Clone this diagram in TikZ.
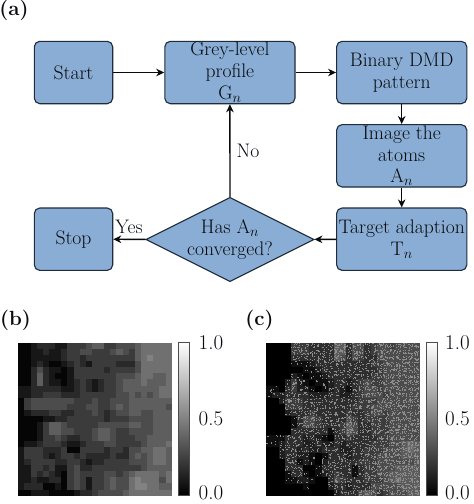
\documentclass[tikz,border=0pt]{standalone}
\usetikzlibrary{shapes.geometric,arrows.meta}
\definecolor{boxblue}{RGB}{137,173,212}
\definecolor{boxline}{RGB}{30,44,60}
\definecolor{inkc}{RGB}{8,10,14}
\newcommand{\heatb}{{0,0,1,2,2,2,1,1,3,3,3,4,5,5,3,3,4,4,4,5,6,6,6,6,6},
{0,0,1,1,2,1,1,2,3,3,4,4,3,3,3,4,5,4,3,5,6,6,6,6,6},
{0,0,1,1,1,1,1,2,3,3,2,3,3,3,3,3,3,3,3,5,6,7,6,6,6},
{0,0,1,2,1,0,0,1,2,3,2,1,3,3,3,3,2,2,2,4,6,6,6,6,6},
{0,0,2,4,2,1,1,0,1,3,3,3,3,3,2,3,3,3,3,4,6,6,6,6,6},
{0,0,2,5,2,1,0,0,1,3,3,3,3,3,3,3,4,4,4,5,6,6,5,5,6},
{0,0,2,5,2,1,1,0,1,2,3,2,1,2,3,3,4,5,5,5,6,5,5,5,6},
{1,1,2,2,2,2,2,1,1,2,3,2,1,2,3,3,4,5,5,5,5,5,5,6,6},
{1,1,2,2,3,3,3,2,2,2,3,3,3,3,3,3,4,4,5,4,5,4,5,6,6},
{0,3,4,4,4,4,4,4,4,3,3,3,4,3,3,4,4,4,5,5,5,5,5,5,5},
{0,3,4,4,4,4,4,4,3,3,3,4,4,3,3,4,5,4,5,5,5,5,5,5,4},
{0,1,2,2,2,3,3,2,2,3,3,3,4,3,2,3,4,4,5,5,4,4,5,5,5},
{0,0,0,0,1,1,2,2,3,3,3,3,3,3,2,3,3,3,4,4,4,4,5,5,5},
{0,0,0,1,3,5,5,4,3,3,3,3,3,4,4,4,4,4,5,5,4,4,5,5,5},
{0,0,0,1,3,5,5,4,4,3,3,3,4,5,5,4,3,3,4,4,4,4,5,5,5},
{0,0,0,1,3,3,4,3,2,2,3,3,4,5,5,4,3,3,3,4,4,5,5,5,5},
{0,1,1,2,3,3,3,2,1,1,2,3,3,3,4,4,3,3,3,3,4,5,5,5,6},
{1,3,3,3,2,2,2,3,0,0,3,3,3,3,2,3,3,2,4,4,5,5,6,6,5},
{1,3,3,3,2,1,2,3,3,2,3,2,2,2,2,3,2,2,4,5,4,5,6,6,5},
{1,2,3,3,3,3,2,2,3,3,2,1,2,2,3,3,3,3,4,4,4,5,6,6,5},
{1,1,3,3,2,3,1,1,3,4,2,2,3,3,3,3,3,3,3,3,4,5,5,5,5},
{1,1,3,2,3,2,1,0,3,4,3,3,3,3,4,4,3,4,5,6,6,6,6,5,6},
{1,1,2,1,1,2,2,0,3,4,3,1,3,3,4,5,4,4,6,7,6,6,6,4,6},
{1,2,2,2,0,0,1,0,3,4,3,1,3,3,4,5,4,4,6,7,7,6,6,5,5},
{0,0,1,1,1,0,0,0,0,1,2,2,3,4,4,4,4,5,6,6,6,6,6,6,6}}
\newcommand{\heatc}{{0,0,0,0,4,4,4,3,3,3,3,6,6,3,5,5,3,4,5,5,4,5,5,5,5},
{0,0,0,0,4,4,4,3,3,3,3,6,6,3,5,5,3,4,5,5,5,5,5,5,5},
{0,0,0,0,3,3,3,3,3,3,3,6,5,3,5,4,3,3,5,5,5,5,5,5,5},
{0,0,0,0,1,1,1,2,3,3,3,3,3,3,3,3,3,4,4,5,5,5,5,5,5},
{0,0,0,0,0,0,1,1,2,3,3,3,3,3,3,3,3,3,4,5,5,5,5,5,5},
{0,0,0,0,2,1,0,1,1,2,3,3,3,3,3,3,3,4,4,5,5,5,5,5,5},
{0,0,0,2,4,2,1,0,1,1,2,3,3,2,3,4,5,4,4,5,5,5,5,5,5},
{1,1,0,3,4,2,2,1,0,1,2,3,2,1,3,4,5,5,4,5,5,5,5,5,5},
{1,2,2,3,3,3,3,2,2,2,3,3,2,2,3,4,5,5,5,4,5,5,5,5,5},
{0,0,2,4,4,4,3,3,3,3,3,3,3,3,3,4,4,4,5,5,5,5,5,5,5},
{0,0,0,4,4,4,3,3,3,3,3,3,3,3,4,4,4,5,5,5,5,5,5,5,5},
{0,0,0,2,3,3,3,4,3,3,3,3,3,4,3,3,4,5,5,4,5,5,5,5,5},
{0,0,0,0,1,3,5,5,4,3,3,3,3,5,4,3,4,4,4,4,5,5,5,5,5},
{0,0,0,0,1,3,5,5,4,3,3,3,4,6,5,3,3,4,4,4,5,5,5,5,5},
{0,0,0,0,3,3,3,3,3,3,1,3,4,6,5,3,3,4,4,4,5,5,5,5,5},
{1,1,1,3,3,3,2,3,2,1,0,3,3,4,3,3,3,3,4,4,5,5,5,5,5},
{1,1,2,3,3,3,2,2,3,2,2,3,2,3,3,3,3,4,4,4,5,5,6,7,6},
{0,0,2,3,3,2,3,2,2,3,3,3,2,2,3,3,4,4,4,5,5,5,6,7,6},
{0,0,2,3,3,2,2,1,0,1,3,3,3,2,3,3,4,4,5,5,5,5,6,6,6},
{0,0,0,3,3,1,2,1,0,2,3,3,3,3,3,4,4,4,5,5,5,5,5,5,6},
{0,0,0,3,3,3,0,0,1,3,3,3,3,3,1,3,4,4,5,5,5,6,6,6,6},
{0,0,0,1,3,3,1,0,1,2,3,4,3,3,1,3,4,4,5,5,6,6,6,6,6},
{0,0,0,1,1,2,2,1,0,0,3,5,4,3,3,3,4,4,4,5,6,7,6,6,6},
{0,0,0,0,0,0,1,0,0,0,2,3,3,2,3,3,3,5,5,5,5,5,6,6,6},
{0,0,0,0,0,0,0,0,0,0,0,2,3,3,3,5,6,5,3,4,5,5,5,6,6}}
\tikzset{
  flowbox/.style={draw=boxline,fill=boxblue,line width=1.1pt,rounded corners=5.5pt,
    inner sep=0pt,align=center,text=inkc,font=\fontsize{19.6}{21.8}\selectfont},
  startbox/.style={flowbox,minimum width=78.4pt,minimum height=62.4pt},
  wide box/.style={flowbox,minimum width=130.2pt,minimum height=62.4pt},
  decision/.style={draw=boxline,fill=boxblue,line width=1.1pt,shape=diamond,aspect=2,
    inner sep=-2pt,minimum width=168.3pt,minimum height=84.4pt,align=center,text=inkc,
    font=\fontsize{19.6}{21.8}\selectfont},
  link/.style={draw=inkc,line width=1.4pt,-{Stealth[length=8pt,width=7.5pt,inset=2.5pt]}},
  edgetext/.style={text=inkc,inner sep=0pt,font=\fontsize{19.6}{21.8}\selectfont},
  panel/.style={text=inkc,inner sep=0pt,font=\fontsize{20.5}{22}\selectfont\bfseries},
  scaletext/.style={text=inkc,inner sep=0pt,anchor=west,font=\fontsize{21}{24}\selectfont},
  colourbar/.style={draw=black!70,line width=0.9pt,bottom color=black,top color=white,shading angle=0}
}
\begin{document}
\begin{tikzpicture}[x=1pt,y=-1pt]
\useasboundingbox (0,0) rectangle (474,504);
\clip (0,0) rectangle (474,504);
\fill[white] (0,0) rectangle (474,504);

\node[panel] (la) at (14,10.5) {(a)};
\node[panel] (lb) at (15.5,320) {(b)};
\node[panel] (lc) at (259.5,320) {(c)};

\node[startbox] (start) at (73.5,72.5) {Start};
\node[wide box] (grey) at (229.9,72.5) {Grey-level\\profile\\G$_n$};
\node[wide box] (binary) at (401.7,72.5) {Binary DMD\\pattern};
\node[wide box] (image) at (401.7,155.8) {Image the\\atoms\\A$_n$};
\node[wide box] (target) at (401.7,239.2) {Target adaption\\T$_n$};
\node[decision] (conv) at (230,239.5) {Has A$_n$\\converged?};
\node[startbox] (stop) at (73.5,239.2) {Stop};

\draw[link] (start) -- (grey);
\draw[link] (grey) -- (binary);
\draw[link] (binary) -- (image);
\draw[link] (image) -- (target);
\draw[link] (target) -- (conv);
\draw[link] (conv) -- (grey);
\draw[link] (conv) -- (stop);
\node[edgetext] (no) at (248,150.5) {No};
\node[edgetext] (yes) at (129,227) {Yes};

% panel (b)
\fill[black] (18.3,342.7) rectangle (171.7,495.7);
\foreach \rowvals [count=\r from 0] in \heatb {
  \foreach \v [count=\c from 0] in \rowvals {
    \pgfmathtruncatemacro{\p}{\v*7+2}
    \pgfmathsetmacro{\xa}{18.3+\c*6.136}
    \pgfmathsetmacro{\ya}{342.7+\r*6.12}
    \fill[white!\p!black] (\xa,\ya) rectangle (\xa+6.4,\ya+6.4);
  }
}
\fill[white] (171.7,340) rectangle (176,500);
\fill[white] (18,495.7) rectangle (176,500);
\shade[colourbar] (178.7,342.7) rectangle (189.3,495.7);
\node[scaletext] (b1) at (198.5,343) {1.0};
\node[scaletext] (b2) at (198.5,419) {0.5};
\node[scaletext] (b3) at (198.5,493) {0.0};

% panel (c): random grey speckle whose density follows the map
\pgfmathsetseed{4711}
\fill[black] (266.3,342.7) rectangle (419.7,495.7);
\foreach \rowvals [count=\r from 0] in \heatc {
  \foreach \v [count=\c from 0] in \rowvals {
    \ifnum\v>0
      \pgfmathtruncatemacro{\p}{\v*6}
      \pgfmathtruncatemacro{\n}{\v*2}
      \pgfmathsetmacro{\xa}{266.3+\c*6.136}
      \pgfmathsetmacro{\ya}{342.7+\r*6.12}
      \fill[white!\p!black] (\xa,\ya) rectangle (\xa+6.2,\ya+6.2);
      \foreach \k in {1,...,\n} {
        \pgfmathsetmacro{\xb}{\xa+rnd*5}
        \pgfmathsetmacro{\yb}{\ya+rnd*5}
        \fill[black!45] (\xb,\yb) rectangle +(1.1,1.1);
      }
    \fi
  }
}
\shade[colourbar] (426.3,342.7) rectangle (437,495.7);
\node[scaletext] (c1) at (445,343) {1.0};
\node[scaletext] (c2) at (445,419) {0.5};
\node[scaletext] (c3) at (445,493) {0.0};
\end{tikzpicture}
\end{document}
